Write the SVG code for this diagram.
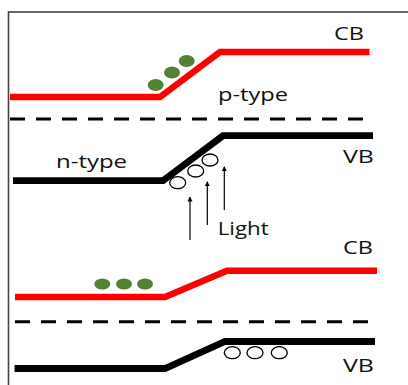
<svg xmlns="http://www.w3.org/2000/svg" width="408" height="385" viewBox="0 0 408 385">
  <style>
    .lbl { font-family: "Open Sans", "DejaVu Sans", sans-serif; font-size: 19px; fill: #111; }
    .cb { fill: none; stroke: #ff0000; stroke-width: 6.5; stroke-linejoin: miter; }
    .vb { fill: none; stroke: #000; stroke-width: 6.8; stroke-linejoin: miter; }
    .fermi { fill: none; stroke: #000; stroke-width: 3; stroke-dasharray: 15 11; }
    .electron { fill: #548235; }
    .hole { fill: #fff; stroke: #000; stroke-width: 1.3; }
    .ray { stroke: #000; stroke-width: 1.2; marker-end: url(#tip); }
  </style>
  <defs>
    <marker id="tip" viewBox="0 0 10 10" refX="9" refY="5" markerWidth="5" markerHeight="6" markerUnits="userSpaceOnUse" orient="auto">
      <path d="M0,0 L10,5 L0,10 z" fill="#000"/>
    </marker>
  </defs>
  <rect width="408" height="385" fill="#fff"/>
  <!-- frame -->
  <rect x="8.5" y="12" width="500" height="500" fill="none" stroke="#444" stroke-width="1.6"/>

  <!-- upper junction: before illumination -->
  <g id="cb-top">
    <polyline class="cb" points="10,97 160,97 220,52 369.5,52"/>
    <text class="lbl" x="334" y="40" textLength="30" lengthAdjust="spacingAndGlyphs">CB</text>
  </g>
  <g id="electrons-top">
    <ellipse class="electron" cx="155.7" cy="85" rx="8" ry="6"/>
    <ellipse class="electron" cx="172" cy="72.5" rx="8" ry="6"/>
    <ellipse class="electron" cx="186.7" cy="61" rx="8" ry="6"/>
  </g>
  <g id="label-ptype">
    <text class="lbl" x="218" y="100.5" textLength="70" lengthAdjust="spacingAndGlyphs">p-type</text>
  </g>
  <g id="fermi-top">
    <line class="fermi" x1="10" y1="119" x2="367" y2="119"/>
  </g>
  <g id="vb-top">
    <polyline class="vb" points="13,180.7 163,180.7 223,135.7 373,135.7"/>
    <text class="lbl" x="343" y="163" textLength="31" lengthAdjust="spacingAndGlyphs">VB</text>
  </g>
  <g id="label-ntype">
    <text class="lbl" x="56" y="167.7" textLength="71" lengthAdjust="spacingAndGlyphs">n-type</text>
  </g>
  <g id="holes-top">
    <ellipse class="hole" cx="177.7" cy="182.7" rx="8" ry="6"/>
    <ellipse class="hole" cx="195.7" cy="171" rx="8" ry="6"/>
    <ellipse class="hole" cx="210" cy="160" rx="8" ry="6"/>
  </g>
  <g id="light">
    <text class="lbl" x="217.7" y="235" textLength="51" lengthAdjust="spacingAndGlyphs">Light</text>
  </g>

  <!-- lower junction: after illumination -->
  <g id="cb-bottom">
    <polyline class="cb" points="15,297 165,297 227,270.7 377,270.7"/>
    <text class="lbl" x="343" y="254.3" textLength="30" lengthAdjust="spacingAndGlyphs">CB</text>
  </g>
  <g id="electrons-bottom">
    <ellipse class="electron" cx="102.3" cy="284" rx="8" ry="5.5"/>
    <ellipse class="electron" cx="124" cy="284" rx="8" ry="5.5"/>
    <ellipse class="electron" cx="145" cy="284" rx="8" ry="5.5"/>
  </g>
  <g id="fermi-bottom">
    <line class="fermi" x1="15" y1="321.7" x2="372" y2="321.7"/>
  </g>
  <g id="vb-bottom">
    <polyline class="vb" points="14.5,368.5 165,368.5 225,341.5 375,341.5"/>
    <text class="lbl" x="343" y="371.7" textLength="31" lengthAdjust="spacingAndGlyphs">VB</text>
  </g>
  <g id="holes-bottom">
    <ellipse class="hole" cx="232.3" cy="352.7" rx="8" ry="6"/>
    <ellipse class="hole" cx="255" cy="352.7" rx="8" ry="6"/>
    <ellipse class="hole" cx="279.3" cy="352.7" rx="8" ry="6"/>
  </g>

  <!-- incoming light rays -->
  <g id="connectors">
    <line class="ray" x1="190" y1="240" x2="190" y2="197"/>
    <line class="ray" x1="207.3" y1="225" x2="207.3" y2="181.7"/>
    <line class="ray" x1="224.3" y1="210" x2="224.3" y2="166.7"/>
  </g>
</svg>
